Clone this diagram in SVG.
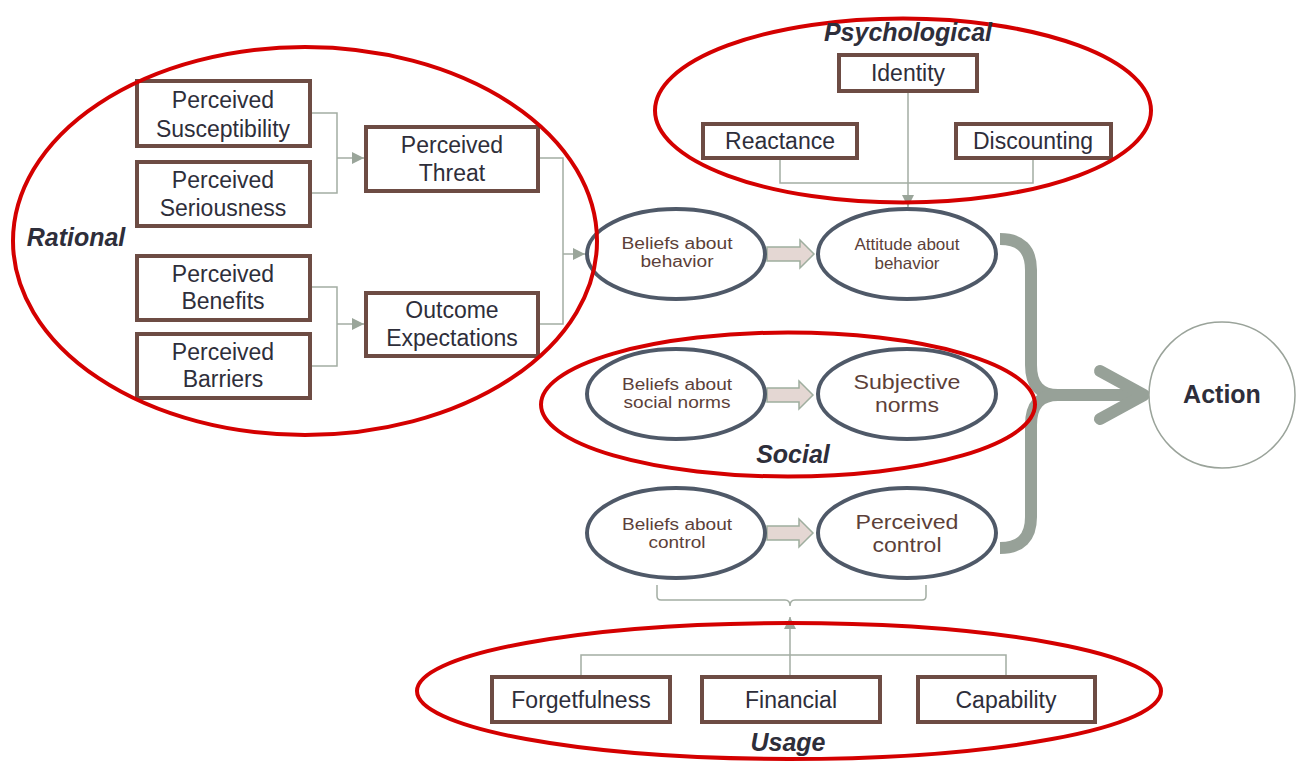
<svg xmlns="http://www.w3.org/2000/svg" width="1299" height="761" viewBox="0 0 1299 761">
<style>
text{font-family:"Liberation Sans",Arial,sans-serif;text-anchor:middle}
.box rect{fill:#fff;stroke:#6d4c44;stroke-width:4}
.box text{font-size:23px;fill:#2e2e3a}
.oval ellipse{fill:#fff;stroke:#4f5968;stroke-width:4}
.oval text{fill:#5c3f39}
.s1{font-size:16px}
.s2{font-size:16.5px}
.s3{font-size:20.5px}
.grp{fill:none;stroke:#d40000;stroke-width:4}
.lbl{font-size:25px;font-weight:bold;font-style:italic;fill:#2e2e3a}
.conn{fill:none;stroke:#a3ada3;stroke-width:1.5}
.blk{fill:#e4d7d3;stroke:#9fae9f;stroke-width:1.5}
.brace{fill:none;stroke:#97a198;stroke-width:12}
</style>
<defs>
<marker id="ah2" viewBox="0 0 10 10" refX="10" refY="5" markerWidth="12" markerHeight="12" markerUnits="userSpaceOnUse" orient="auto">
<path d="M0,0 L10,5 L0,10 z" fill="#9aa59a"/>
</marker>
</defs>
<rect width="1299" height="761" fill="#fff"/>

<g id="connectors">
<path class="conn" d="M310,113 H337 V193 H310"/>
<path class="conn" d="M337,158 H364" marker-end="url(#ah2)"/>
<path class="conn" d="M310,287 H337 V366 H310"/>
<path class="conn" d="M337,324 H364" marker-end="url(#ah2)"/>
<path class="conn" d="M538,158 H563 V324 H538"/>
<path class="conn" d="M563,254 H585" marker-end="url(#ah2)"/>
<path class="conn" d="M908,92 V207" marker-end="url(#ah2)"/>
<path class="conn" d="M780,158 V183 H1033 V158"/>
<path class="conn" d="M581,677 V655 H1006 V677"/>
<path class="conn" d="M790,677 V617" marker-end="url(#ah2)"/>
<path class="conn" d="M657,585 V596 Q657,600 661,600 H785 Q790,600 790,606 Q790,600 795,600 H922 Q926,600 926,596 V585"/>
<polygon class="blk" points="767,247 800,247 800,240 814,254 800,268 800,261 767,261"/>
<polygon class="blk" points="767,388 799,388 799,381 813,395 799,409 799,402 767,402"/>
<polygon class="blk" points="767,526 799,526 799,519 813,533 799,547 799,540 767,540"/>
<path class="brace" d="M1000,239 Q1031,239 1031,270 V365 Q1031,395 1058,395"/>
<path class="brace" d="M1000,548 Q1031,548 1031,517 V425 Q1031,395 1058,395"/>
<path class="brace" d="M1052,395 H1140"/>
<path class="brace" stroke-linecap="round" stroke-linejoin="round" d="M1100,371 L1144,395 L1100,419"/>
</g>

<g id="n-susceptibility" class="box"><rect x="137" y="81" width="173" height="65"/><text x="223" y="108">Perceived</text><text x="223" y="137">Susceptibility</text></g>
<g id="n-seriousness" class="box"><rect x="137" y="162" width="173" height="64"/><text x="223" y="188">Perceived</text><text x="223" y="216">Seriousness</text></g>
<g id="n-benefits" class="box"><rect x="137" y="256" width="173" height="64"/><text x="223" y="282">Perceived</text><text x="223" y="309">Benefits</text></g>
<g id="n-barriers" class="box"><rect x="137" y="334" width="173" height="64"/><text x="223" y="360">Perceived</text><text x="223" y="387">Barriers</text></g>
<g id="n-threat" class="box"><rect x="366" y="127" width="172" height="64"/><text x="452" y="153">Perceived</text><text x="452" y="181">Threat</text></g>
<g id="n-outcome" class="box"><rect x="366" y="293" width="172" height="63"/><text x="452" y="318">Outcome</text><text x="452" y="346">Expectations</text></g>
<g id="n-identity" class="box"><rect x="839" y="55" width="138" height="36"/><text x="908" y="81">Identity</text></g>
<g id="n-reactance" class="box"><rect x="703" y="124" width="154" height="34"/><text x="780" y="149">Reactance</text></g>
<g id="n-discounting" class="box"><rect x="956" y="124" width="155" height="34"/><text x="1033" y="149">Discounting</text></g>
<g id="n-forgetfulness" class="box"><rect x="492" y="677" width="178" height="45"/><text x="581" y="708">Forgetfulness</text></g>
<g id="n-financial" class="box"><rect x="702" y="677" width="178" height="45"/><text x="791" y="708">Financial</text></g>
<g id="n-capability" class="box"><rect x="918" y="677" width="177" height="45"/><text x="1006" y="708">Capability</text></g>

<g id="n-beliefs-behavior" class="oval"><ellipse cx="676" cy="254" rx="89" ry="45"/><text class="s1" x="677" y="249" textLength="111" lengthAdjust="spacingAndGlyphs">Beliefs about</text><text class="s1" x="677" y="267" textLength="73" lengthAdjust="spacingAndGlyphs">behavior</text></g>
<g id="n-attitude" class="oval"><ellipse cx="907" cy="254" rx="89" ry="45"/><text class="s2" x="907" y="250" textLength="105" lengthAdjust="spacingAndGlyphs">Attitude about</text><text class="s2" x="907" y="269" textLength="65" lengthAdjust="spacingAndGlyphs">behavior</text></g>
<g id="n-beliefs-social" class="oval"><ellipse cx="676" cy="394" rx="89" ry="45"/><text class="s1" x="677" y="390" textLength="110" lengthAdjust="spacingAndGlyphs">Beliefs about</text><text class="s1" x="677" y="408" textLength="107" lengthAdjust="spacingAndGlyphs">social norms</text></g>
<g id="n-subjective" class="oval"><ellipse cx="907" cy="394" rx="89" ry="45"/><text class="s3" x="907" y="389" textLength="107" lengthAdjust="spacingAndGlyphs">Subjective</text><text class="s3" x="907" y="412" textLength="64" lengthAdjust="spacingAndGlyphs">norms</text></g>
<g id="n-beliefs-control" class="oval"><ellipse cx="676" cy="533" rx="89" ry="45"/><text class="s1" x="677" y="530" textLength="110" lengthAdjust="spacingAndGlyphs">Beliefs about</text><text class="s1" x="677" y="548" textLength="57" lengthAdjust="spacingAndGlyphs">control</text></g>
<g id="n-perceived-control" class="oval"><ellipse cx="907" cy="533" rx="89" ry="45"/><text class="s3" x="907" y="529" textLength="103" lengthAdjust="spacingAndGlyphs">Perceived</text><text class="s3" x="907" y="552" textLength="69" lengthAdjust="spacingAndGlyphs">control</text></g>

<g id="n-action"><circle cx="1222" cy="395" r="73" fill="#fff" stroke="#9aa39a" stroke-width="1.5"/><text x="1222" y="403" font-size="25" font-weight="bold" fill="#2e2e3a">Action</text></g>

<g id="g-rational"><ellipse class="grp" cx="305" cy="241" rx="292" ry="194"/><text class="lbl" x="76" y="246">Rational</text></g>
<g id="g-psychological"><ellipse class="grp" cx="903" cy="110.5" rx="248" ry="92"/><text class="lbl" x="908" y="41">Psychological</text></g>
<g id="g-social"><ellipse class="grp" cx="788" cy="404.5" rx="247" ry="72"/><text class="lbl" x="793" y="463">Social</text></g>
<g id="g-usage"><ellipse class="grp" cx="789" cy="691" rx="372" ry="68"/><text class="lbl" x="788" y="751">Usage</text></g>
</svg>
